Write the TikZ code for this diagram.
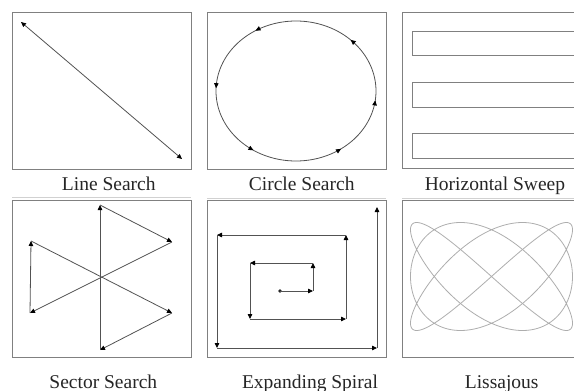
\documentclass[tikz,border=0pt]{standalone}
\usepackage{fontspec}
\setmainfont{Liberation Serif}
\usetikzlibrary{arrows.meta,decorations.markings}
\begin{document}
\begin{tikzpicture}[x=1pt,y=-1pt,
  frame/.style={draw=black!50, line width=0.9pt},
  trk/.style={draw=black!68, line width=0.8pt},
  tip/.style={-{Triangle[length=5pt,width=4.5pt,color=black]}},
  lab/.style={anchor=base, font=\fontsize{19.5}{22}\selectfont, text=black!85, inner sep=0pt},
  faint/.style={draw=black!18, line width=0.6pt}
]
\useasboundingbox (0,0) rectangle (574,391);
\clip (0,0) rectangle (574,391);

% ---------- frames ----------
\draw[frame] (12,12) rectangle (191,169);
\draw[frame] (207,12) rectangle (386,169);
\draw[frame] (402,12) rectangle (581,168);
\draw[frame] (12,200) rectangle (191,357);
\draw[frame] (207,200) rectangle (386,357);
\draw[frame] (402,200) rectangle (581,357);

\draw[faint] (12,197.5) -- (191,197.5);
\draw[faint] (207,198.5) -- (386,198.5);
\draw[faint] (402,198.5) -- (581,198.5);

% ---------- labels ----------
\node[lab] (l1) at (108.8,190.5) {Line Search};
\node[lab] (l2) at (301.7,190.5) {Circle Search};
\node[lab] (l3) at (495,190.5) {Horizontal Sweep};
\node[lab] (l4) at (103.3,388) {Sector Search};
\node[lab] (l5) at (310,388) {Expanding Spiral};
\node[lab] (l6) at (501.7,388) {Lissajous};

% ---------- line search ----------
\coordinate (ls1) at (21,22);
\coordinate (ls2) at (182,159);
\draw[trk, {Triangle[length=5pt,width=4.5pt,color=black]}-{Triangle[length=5pt,width=4.5pt,color=black]}] (ls1) -- (ls2);

% ---------- circle search ----------
\draw[trk, postaction={decorate},
  decoration={markings,
    mark=at position 0.125 with {\arrow{Triangle[length=5pt,width=4.5pt,color=black]}},
    mark=at position 0.339 with {\arrow{Triangle[length=5pt,width=4.5pt,color=black]}},
    mark=at position 0.494 with {\arrow{Triangle[length=5pt,width=4.5pt,color=black]}},
    mark=at position 0.656 with {\arrow{Triangle[length=5pt,width=4.5pt,color=black]}},
    mark=at position 0.85 with {\arrow{Triangle[length=5pt,width=4.5pt,color=black]}},
    mark=at position 0.98 with {\arrow{Triangle[length=5pt,width=4.5pt,color=black]}}}]
  plot[domain=0:360, samples=181] ({296+80*cos(\x)},{91-70*sin(\x)});

% ---------- horizontal sweep ----------
\draw[frame] (412,31) rectangle (590,55);
\draw[frame] (412,82) rectangle (590,107);
\draw[frame] (412,133) rectangle (590,158);

% ---------- sector search ----------
\coordinate (sc) at (100,277);
\coordinate (st) at (100,205);
\coordinate (sur) at (172,242);
\coordinate (slr) at (172,313);
\coordinate (sb) at (100,350);
\coordinate (sll) at (30,313);
\coordinate (sul) at (31,241);
\draw[trk, tip] (sc) -- (st);
\draw[trk, tip] (st) -- (sur);
\draw[trk, tip] (sur) -- (sll);
\draw[trk, tip] (sll) -- (sul);
\draw[trk, tip] (sul) -- (slr);
\draw[trk, tip] (slr) -- (sb);
\draw[trk] (sb) -- (sc);

% ---------- expanding spiral ----------
\coordinate (p0) at (280,291);
\coordinate (p1) at (313,291);
\coordinate (p2) at (313,263);
\coordinate (p3) at (250,263);
\coordinate (p4) at (250,319);
\coordinate (p5) at (346,319);
\coordinate (p6) at (346,235);
\coordinate (p7) at (217,235);
\coordinate (p8) at (217,348);
\coordinate (p9) at (377,348);
\coordinate (p10) at (377,207);
\fill[black!85] (p0) circle (1.8);
\draw[trk, tip] (p0) -- (p1);
\draw[trk, tip] (p1) -- (p2);
\draw[trk, tip] (p2) -- (p3);
\draw[trk, tip] (p3) -- (p4);
\draw[trk, tip] (p4) -- (p5);
\draw[trk, tip] (p5) -- (p6);
\draw[trk, tip] (p6) -- (p7);
\draw[trk, tip] (p7) -- (p8);
\draw[trk, tip] (p8) -- (p9);
\draw[trk, tip] (p9) -- (p10);

% ---------- lissajous ----------
\draw[draw=black!32, line width=0.8pt]
  plot[domain=0:360, samples=600] ({491.5+81*sin(3*\x)},{276.5+54*sin(4*\x)});
\end{tikzpicture}
\end{document}
